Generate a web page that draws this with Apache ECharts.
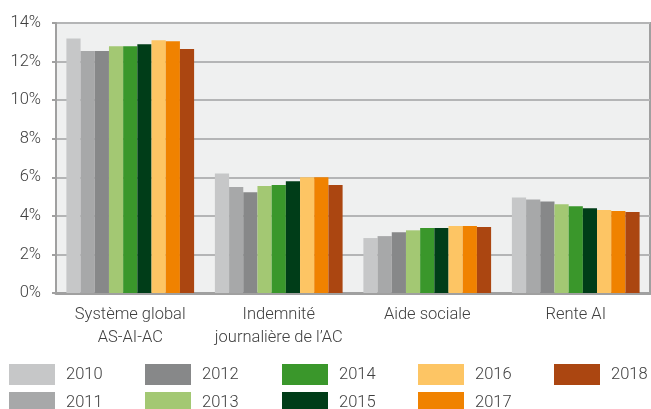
<!DOCTYPE html>
<html>
<head>
<meta charset="utf-8">
<script src="https://cdn.jsdelivr.net/npm/echarts@6/dist/echarts.min.js"></script>
<style>
  html, body { margin: 0; padding: 0; background: #fff; }
  #chart { width: 651px; height: 409px; }
</style>
</head>
<body>
<div id="chart"></div>
<script>
const categories = ["Système global\nAS-AI-AC", "Indemnité\njournalière de l’AC", "Aide sociale", "Rente AI"];
const years = ["2010", "2011", "2012", "2013", "2014", "2015", "2016", "2017", "2018"];

// one array per year, values in % for the 4 categories
const v2010 = [13.2, 6.2, 2.85, 4.95];
const v2011 = [12.55, 5.5, 2.95, 4.85];
const v2012 = [12.55, 5.22, 3.15, 4.75];
const v2013 = [12.8, 5.55, 3.25, 4.6];
const v2014 = [12.8, 5.6, 3.37, 4.5];
const v2015 = [12.9, 5.8, 3.37, 4.4];
const v2016 = [13.1, 6.0, 3.47, 4.3];
const v2017 = [13.05, 6.0, 3.47, 4.25];
const v2018 = [12.65, 5.6, 3.42, 4.2];
const yearValues = [v2010, v2011, v2012, v2013, v2014, v2015, v2016, v2017, v2018];

const yearColors = ["#c6c7c8", "#a7a8a9", "#878889", "#a3c873", "#3a972b", "#003d18", "#fdc564", "#f08200", "#ab4611"];

const textColor = "#404040";
const font = "Roboto, sans-serif";

const chart = echarts.init(document.getElementById("chart"), null, { renderer: "canvas" });

// legend: columns of two years, one legend per year so the second row can run off the bottom
const legendLeft = [9, 145, 282, 418, 554];
const legendTop = [364, 392];

const option = {
  animation: false,
  grid: {
    left: 56,
    right: 1,
    top: 23,
    bottom: 116,
    show: true,
    backgroundColor: "#eff0f0",
    borderColor: "#a0a0a0",
    borderWidth: 2,
  },
  xAxis: {
    type: "category",
    data: categories,
    axisTick: { show: false },
    axisLine: { lineStyle: { color: "#a0a0a0", width: 3 } },
    axisLabel: {
      color: textColor,
      fontFamily: font,
      fontSize: 16.5,
      fontWeight: 300,
      lineHeight: 23,
      margin: 10,
      interval: 0,
    },
  },
  yAxis: {
    type: "value",
    min: 0,
    max: 14,
    interval: 2,
    axisLine: { show: true, lineStyle: { color: "#a0a0a0", width: 2 } },
    axisTick: { show: true, length: 4, lineStyle: { color: "#a0a0a0", width: 2 } },
    splitLine: { lineStyle: { color: "#b4b5b6", width: 2 } },
    axisLabel: {
      color: textColor,
      fontFamily: font,
      fontSize: 16.5,
      fontWeight: 300,
      margin: 15,
      formatter: "{value}%",
    },
  },
  legend: years.map((y, i) => ({
    data: [y],
    left: legendLeft[Math.floor(i / 2)],
    top: legendTop[i % 2],
    padding: 0,
    itemWidth: 46,
    itemHeight: 21,
    icon: "rect",
    textStyle: {
      color: textColor,
      fontFamily: font,
      fontSize: 16.5,
      fontWeight: 300,
      padding: [2, 0, 0, 6],
    },
  })),
  series: years.map((y, i) => ({
    type: "bar",
    name: y,
    data: yearValues[i],
    barGap: "0%",
    barCategoryGap: "14%",
    itemStyle: { color: yearColors[i] },
    emphasis: { disabled: true },
  })),
};

chart.setOption(option);
</script>
</body>
</html>
